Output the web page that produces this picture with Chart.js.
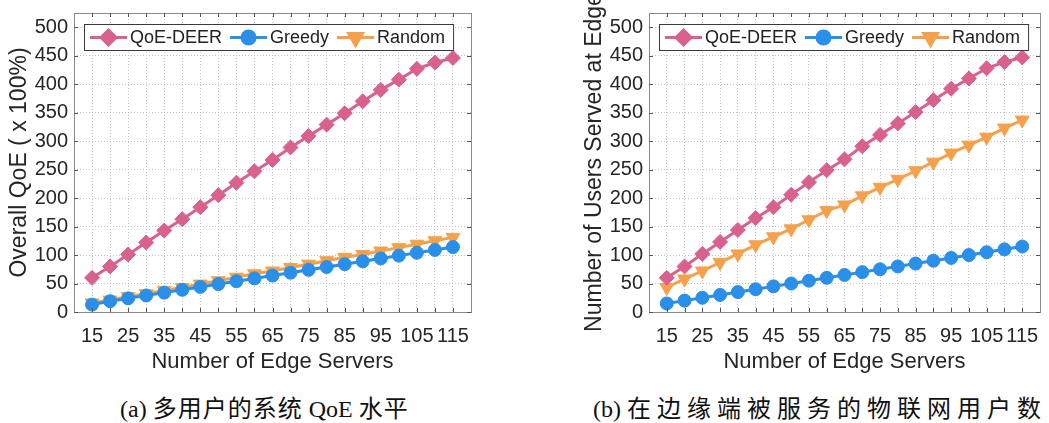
<!DOCTYPE html>
<html>
<head>
<meta charset="utf-8">
<script src="https://cdn.jsdelivr.net/npm/chart.js@4.4.1/dist/chart.umd.min.js"></script>
<style>
  body { margin: 0; background: #fff; width: 1049px; height: 423px; position: relative; overflow: hidden; }
  .box { position: absolute; top: 0; height: 375px; }
  .cap { position: absolute; top: 394px; font-size: 24px; line-height: 30px; color: #111;
         font-family: "Liberation Serif", "Noto Sans CJK SC", serif; white-space: nowrap; }
</style>
</head>
<body>
<div class="box" style="left:0;width:480px"><canvas id="chartA"></canvas></div>
<div class="box" style="left:575px;width:474px"><canvas id="chartB"></canvas></div>
<div class="cap" style="left:120px">(a) <span style="letter-spacing:1px">多用户的系统</span> QoE <span style="letter-spacing:1px">水平</span></div>
<div class="cap" style="left:593px">(b) <span style="letter-spacing:6px">在边缘端被服务的物联网用户数</span></div>
<script>
const servers = [15, 20, 25, 30, 35, 40, 45, 50, 55, 60, 65, 70, 75, 80, 85, 90, 95, 100, 105, 110, 115];
const xTickLabels = [15, 25, 35, 45, 55, 65, 75, 85, 95, 105, 115];

// (a) overall QoE
const qoeDeerA = [60, 80, 101, 122, 143, 163, 184, 205, 227, 247, 267, 289, 309, 329, 349, 370, 390, 408, 427, 438, 446];
const greedyA  = [13, 19, 24, 29, 34, 39, 44, 49, 54, 59, 64, 69, 74, 79, 84, 89, 94, 99, 104, 109, 114];
const randomA  = [16, 21, 27, 32, 38, 43, 49, 55, 61, 67, 72, 78, 84, 90, 96, 101, 107, 113, 119, 125, 131];

// (b) users served at edge
const qoeDeerB = [60, 80, 102, 123, 144, 165, 184, 206, 228, 249, 268, 291, 311, 331, 351, 372, 392, 410, 428, 439, 447];
const greedyB  = [15, 20, 25, 30, 35, 40, 45, 50, 55, 60, 65, 70, 75, 80, 85, 90, 95, 100, 105, 110, 115];
const randomB  = [43, 58, 72, 87, 102, 118, 132, 146, 162, 178, 188, 204, 219, 233, 248, 263, 279, 293, 307, 323, 337];

const pink = '#d9618d', blue = '#2a8fe8', orange = '#f5a14c';
const font = 'Liberation Sans, Arial, sans-serif';

const toPoints = vals => vals.map((v, i) => ({x: servers[i], y: v}))

const series = (label, vals, color, style, radius, rotation) => ({
    label,
    data: toPoints(vals),
    borderColor: color,
    backgroundColor: color,
    borderWidth: 3,
    pointStyle: style,
    pointRadius: radius,
    pointHoverRadius: radius,
    pointRotation: rotation || 0,
    pointBorderWidth: 1,
    tension: 0
})

// box around the plot + legend in the upper left
const frameAndLegend = {
    id: 'frameAndLegend',
    afterDraw(chart) {
        const {ctx, chartArea: a} = chart;
        ctx.save();
        ctx.strokeStyle = '#8a8a8a';
        ctx.lineWidth = 1;
        ctx.strokeRect(a.left + 0.5, a.top + 0.5, a.right - a.left, a.bottom - a.top);

        // inward ticks
        ctx.strokeStyle = '#555';
        const xs = chart.scales.x, ys = chart.scales.y;
        for (const v of servers) {
            const px = Math.round(xs.getPixelForValue(v)) + 0.5;
            ctx.beginPath(); ctx.moveTo(px, a.bottom); ctx.lineTo(px, a.bottom - 4);
            ctx.moveTo(px, a.top); ctx.lineTo(px, a.top + 4); ctx.stroke();
        }
        for (let v = 0; v <= 500; v += 50) {
            const py = Math.round(ys.getPixelForValue(v)) + 0.5;
            ctx.beginPath(); ctx.moveTo(a.left, py); ctx.lineTo(a.left + 4, py);
            ctx.moveTo(a.right, py); ctx.lineTo(a.right - 4, py); ctx.stroke();
        }

        const bx = a.left + 10, by = a.top + 11, bh = 26;
        ctx.font = '18px ' + font;
        let x = bx + 6;
        const items = chart.data.datasets.map(ds => {
            const w = ctx.measureText(ds.label).width;
            return {ds, w};
        });
        let total = 6;
        items.forEach(it => { total += 37 + 3 + it.w + 8; });
        ctx.fillStyle = '#fff';
        ctx.fillRect(bx, by, total, bh);
        ctx.strokeStyle = '#3a3a3a';
        ctx.strokeRect(bx + 0.5, by + 0.5, total, bh);
        const cy = by + bh / 2 + 0.5;
        for (const {ds, w} of items) {
            ctx.strokeStyle = ds.borderColor;
            ctx.lineWidth = 3;
            ctx.beginPath(); ctx.moveTo(x, cy); ctx.lineTo(x + 37, cy); ctx.stroke();
            Chart.helpers.drawPoint(ctx, {
                pointStyle: ds.pointStyle, radius: ds.pointRadius,
                rotation: ds.pointRotation, borderWidth: 1
            }, x + 18.5, cy);
            ctx.fillStyle = ds.backgroundColor;
            ctx.fill();
            ctx.fillStyle = '#222';
            ctx.textBaseline = 'middle';
            ctx.fillText(ds.label, x + 40, cy + 1);
            x += 37 + 3 + w + 8;
        }
        ctx.restore();
    }
}

const makeChart = (id, yTitle, deer, greedy, random) => {
    const canvas = document.getElementById(id)
    canvas.style.width = canvas.parentNode.style.width
    canvas.style.height = '375px'
    return new Chart(canvas, {
        type: 'line',
        data: {
            datasets: [
                series('QoE-DEER', deer, pink, 'rectRot', 7.5),
                series('Greedy', greedy, blue, 'circle', 6.5),
                series('Random', random, orange, 'triangle', 8, 180)
            ]
        },
        options: {
            responsive: false,
            animation: false,
            layout: {padding: {top: 13, right: 6, left: 0, bottom: 0}},
            plugins: {legend: {display: false}, tooltip: {enabled: false}},
            scales: {
                x: {
                    type: 'linear', min: 10, max: 120,
                    afterFit: s => { s.height = 63; s.paddingLeft = 0; s.paddingRight = 0 },
                    grid: {color: '#c4c4c4', drawTicks: false, tickLength: 0},
                    border: {display: false, dash: [1, 2]},
                    ticks: {
                        stepSize: 5, autoSkip: false, maxRotation: 0, includeBounds: false,
                        padding: 12, color: '#262626', font: {family: font, size: 20},
                        callback: v => xTickLabels.includes(v) ? String(v) : ''
                    },
                    title: {display: true, text: 'Number of Edge Servers', color: '#262626',
                            font: {family: font, size: 22}, padding: {top: 0, bottom: 0}}
                },
                y: {
                    min: 0, max: 525,
                    afterFit: s => { s.width = 74; s.paddingTop = 0; s.paddingBottom = 0 },
                    grid: {color: '#c4c4c4', drawTicks: false, tickLength: 0},
                    border: {display: false, dash: [1, 2]},
                    ticks: {
                        stepSize: 50, includeBounds: false, padding: 6,
                        color: '#262626', font: {family: font, size: 20}
                    },
                    title: {display: true, text: yTitle, color: '#262626',
                            font: {family: font, size: 23}, padding: {top: 6, bottom: 0}}
                }
            }
        },
        plugins: [frameAndLegend]
    })
}

document.getElementById('chartA').width = 480
document.getElementById('chartA').height = 375
document.getElementById('chartB').width = 474
document.getElementById('chartB').height = 375

makeChart('chartA', 'Overall QoE ( x 100%)', qoeDeerA, greedyA, randomA)
makeChart('chartB', 'Number of Users Served at Edge', qoeDeerB, greedyB, randomB)
</script>
</body>
</html>
